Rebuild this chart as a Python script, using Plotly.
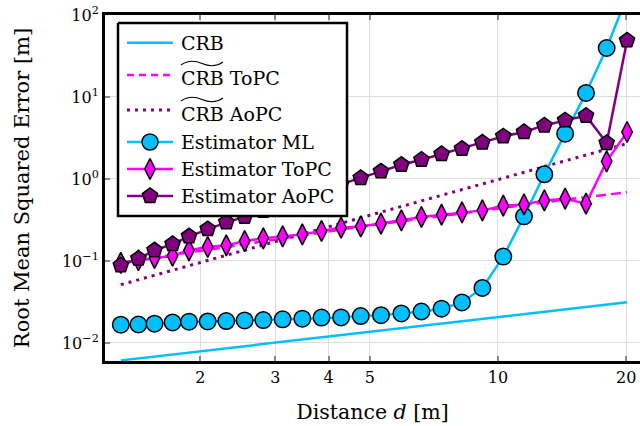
import plotly.graph_objects as go

# distances (log spaced-ish)
distance = [1.30, 1.43, 1.56, 1.72, 1.88, 2.08, 2.30, 2.54, 2.81, 3.12, 3.47, 3.85, 4.28, 4.76,
            5.31, 5.93, 6.61, 7.37, 8.23, 9.19, 10.29, 11.51, 12.85, 14.38, 16.10, 18.00, 20.10]

rmse_ml = [0.0167, 0.0168, 0.0172, 0.0178, 0.0182, 0.0183, 0.0185, 0.0188, 0.0190, 0.0194, 0.0198,
           0.0204, 0.0205, 0.0213, 0.0218, 0.0229, 0.0242, 0.0262, 0.0312, 0.0469, 0.113, 0.350,
           1.14, 3.57, 11.2, 39.6, 170.0]
rmse_topc = [0.095, 0.102, 0.109, 0.116, 0.135, 0.148, 0.155, 0.175, 0.189, 0.200, 0.211, 0.232,
             0.255, 0.264, 0.285, 0.313, 0.344, 0.367, 0.392, 0.414, 0.472, 0.490, 0.548, 0.575,
             0.500, 1.64, 3.74]
rmse_aopc = [0.0883, 0.107, 0.135, 0.161, 0.200, 0.245, 0.296, 0.345, 0.41, 0.50, 0.60, 0.72,
             0.87, 1.03, 1.24, 1.49, 1.72, 2.02, 2.34, 2.79, 3.31, 3.74, 4.50, 5.19, 5.92, 2.75, 49.0]

crb_d = [1.30, 20.10]
crb = [0.00613, 0.0313]
crb_topc_d = [1.30, 4.76, 14.38, 20.10]
crb_topc = [0.095, 0.262, 0.56, 0.69]
crb_aopc_d = [1.30, 20.10]
crb_aopc = [0.0514, 2.7]

x_ticks = [2, 3, 4, 5, 10, 20]
y_ticks = [0.01, 0.1, 1, 10, 100]
y_ticktext = ["10<sup>\u22122</sup>", "10<sup>\u22121</sup>", "10<sup>0</sup>", "10<sup>1</sup>", "10<sup>2</sup>"]

CYAN = "#00BFFF"
MAGENTA = "#FF00FF"
PURPLE = "#800080"
FONT = "DejaVu Serif"

fig = go.Figure()

fig.add_trace(go.Scatter(x=crb_d, y=crb, mode="lines", line=dict(color=CYAN, width=2.5)))
fig.add_trace(go.Scatter(x=crb_topc_d, y=crb_topc, mode="lines",
                         line=dict(color=MAGENTA, width=2.5, dash="10px,5px")))
fig.add_trace(go.Scatter(x=crb_aopc_d, y=crb_aopc, mode="lines",
                         line=dict(color=PURPLE, width=3, dash="3px,5px")))
fig.add_trace(go.Scatter(x=distance, y=rmse_ml, mode="lines+markers",
                         line=dict(color=CYAN, width=2.5),
                         marker=dict(symbol="circle", size=16.5, color=CYAN, line=dict(color="black", width=1.5))))
fig.add_trace(go.Scatter(x=distance, y=rmse_topc, mode="lines+markers",
                         line=dict(color=MAGENTA, width=2.5),
                         marker=dict(symbol="diamond-tall", size=15, color=MAGENTA, line=dict(color="black", width=1.5))))
fig.add_trace(go.Scatter(x=distance, y=rmse_aopc, mode="lines+markers",
                         line=dict(color=PURPLE, width=2.5),
                         marker=dict(symbol="pentagon", size=16, color=PURPLE, line=dict(color="black", width=1.5))))

# hand-built legend on an overlay axis measured in window pixels
lx0, lx1, ly0, ly1 = 118, 347, 23, 216
fig.add_trace(go.Scatter(x=[lx0, lx1, lx1, lx0, lx0], y=[ly0, ly0, ly1, ly1, ly0], mode="lines",
                         fill="toself", fillcolor="white", line=dict(color="black", width=2.5),
                         xaxis="x2", yaxis="y2", hoverinfo="skip"))

legend_rows = [
    ("CRB", 42.7, CYAN, None, None, 2.5),
    ("CRB ToPC", 75.0, MAGENTA, "7px,5px", None, 2.5),
    ("CRB AoPC", 110.0, PURPLE, "3px,5px", None, 3),
    ("Estimator ML", 142.0, CYAN, None, "circle", 2.5),
    ("Estimator ToPC", 169.0, MAGENTA, None, "diamond-tall", 2.5),
    ("Estimator AoPC", 196.0, PURPLE, None, "pentagon", 2.5),
]
text_y = [42.7, 77.5, 113.5, 141.7, 169.0, 195.5]
for (label, yy, col, dash, sym, w), ty in zip(legend_rows, text_y):
    fig.add_trace(go.Scatter(x=[127, 173], y=[yy, yy], mode="lines",
                             line=dict(color=col, width=w, dash=dash),
                             xaxis="x2", yaxis="y2", hoverinfo="skip"))
    if sym:
        fig.add_trace(go.Scatter(x=[150], y=[yy], mode="markers",
                                 marker=dict(symbol=sym, size=16 if sym != "diamond-tall" else 15, color=col,
                                             line=dict(color="black", width=1.5)),
                                 xaxis="x2", yaxis="y2", hoverinfo="skip"))
    fig.add_annotation(x=179, y=ty, xref="x2", yref="y2", text=label, showarrow=False,
                       xanchor="left", yanchor="middle", font=dict(family=FONT, size=19, color="black"))

# wide tildes over "CRB"
for ty in (63.5, 99.5):
    path = (f"M181,{ty + 1.5} C188,{ty - 3.5} 195,{ty - 3} 202,{ty} "
            f"C209,{ty + 3} 216,{ty + 3.5} 223,{ty - 1.5}")
    fig.add_shape(type="path", path=path, xref="x2", yref="y2",
                  line=dict(color="black", width=1.1), layer="above")

fig.update_layout(
    width=640, height=426,
    margin=dict(l=105, r=0, t=15, b=65),
    paper_bgcolor="white", plot_bgcolor="white",
    showlegend=False,
    font=dict(family=FONT, size=16, color="black"),
    xaxis=dict(type="log", range=[0.0768, 1.3336], tickvals=x_ticks, ticktext=[str(v) for v in x_ticks],
               showgrid=True, gridcolor="#dddddd", gridwidth=1, automargin=False,
               ticks="inside", ticklen=5, tickwidth=1.5, tickcolor="#888888",
               showline=True, linewidth=3, linecolor="black", mirror="allticks",
               zeroline=False, tickfont=dict(size=16), ticklabeloverflow="allow",
               title=dict(text="Distance <i>d</i> [m]", font=dict(size=20.5), standoff=19)),
    yaxis=dict(type="log", range=[-2.22, 2.0], tickvals=y_ticks, ticktext=y_ticktext,
               showgrid=True, gridcolor="#dddddd", gridwidth=1, automargin=False,
               ticks="inside", ticklen=5, tickwidth=1.5, tickcolor="#888888",
               showline=True, linewidth=3, linecolor="black", mirror=False,
               zeroline=False, tickfont=dict(size=16), ticklabeloverflow="allow",
               title=dict(text="Root Mean Squared Error [m]", font=dict(size=21), standoff=27)),
    xaxis2=dict(overlaying="x", range=[105, 640], visible=False, fixedrange=True),
    yaxis2=dict(overlaying="y", range=[361, 15], visible=False, fixedrange=True),
)

# drop the default 8px page margin so the figure sits at the window origin
fig.write_html("out.html", config={"displayModeBar": False},
               post_script="document.body.style.margin='0px';")
